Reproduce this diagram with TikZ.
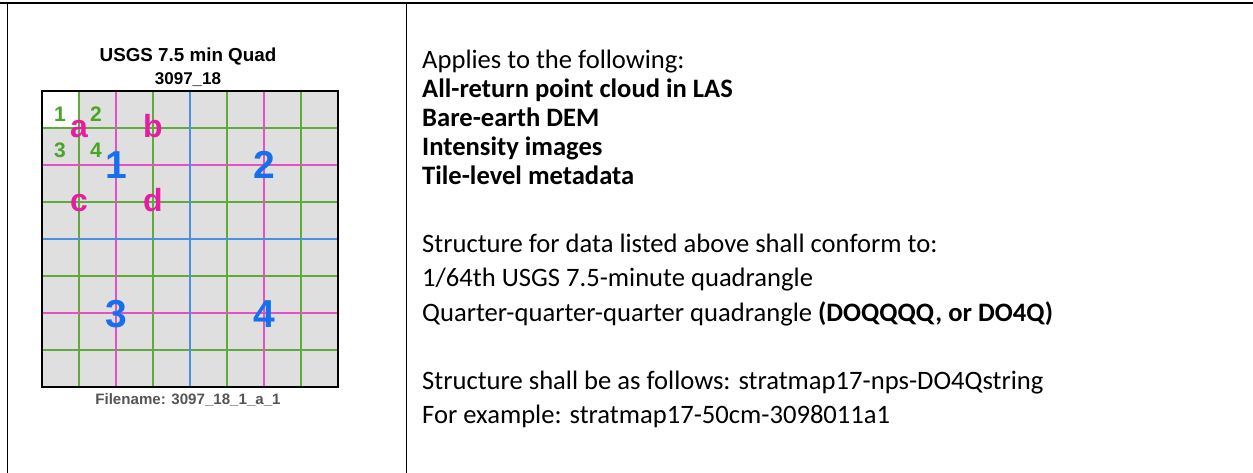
\documentclass[tikz,border=0pt]{standalone}
\usepackage{fontspec}
\setmainfont{Carlito}
\newfontfamily\arial{Liberation Sans}

\definecolor{gridfill}{RGB}{223,223,223}
\definecolor{glin}{RGB}{96,170,60}
\definecolor{mlin}{RGB}{226,82,196}
\definecolor{blin}{RGB}{74,144,226}
\definecolor{gtxt}{RGB}{72,165,38}
\definecolor{mtxt}{RGB}{232,28,164}
\definecolor{btxt}{RGB}{22,112,238}
\definecolor{captxt}{RGB}{85,85,85}

\begin{document}
\begin{tikzpicture}[x=1pt,y=-1pt,
  frame/.style={black,line width=1.4pt},
  body/.style={anchor=base west,inner sep=0pt,font=\fontsize{26.6}{32}\selectfont},
  bodybold/.style={body,font=\fontsize{26.6}{32}\selectfont\bfseries},
  maptitle/.style={anchor=base,inner sep=0pt,font=\arial\bfseries\fontsize{18.8}{20}\selectfont},
  mapsub/.style={anchor=base,inner sep=0pt,font=\arial\bfseries\fontsize{17}{18}\selectfont},
  mapcap/.style={anchor=base,inner sep=0pt,text=captxt,font=\arial\bfseries\fontsize{15.1}{16}\selectfont},
  qqq/.style={anchor=base,inner sep=0pt,text=gtxt,font=\arial\bfseries\fontsize{21}{21}\selectfont},
  qq/.style={anchor=base,inner sep=0pt,text=mtxt,font=\arial\bfseries\fontsize{32}{32}\selectfont},
  qd/.style={anchor=base,inner sep=0pt,text=btxt,font=\arial\bfseries\fontsize{39}{39}\selectfont},
  gline/.style={glin,line width=1.3pt},
  mline/.style={mlin,line width=1.3pt},
  bline/.style={blin,line width=1.3pt}]

\useasboundingbox (0,0) rectangle (1253,473);

% table rules
\draw[frame] (0,3) -- (1253,3);
\draw[frame] (7.3,3) -- (7.3,473);
\draw[frame] (406.7,3) -- (406.7,473);

% quad sheet: gray field, white first tile
\fill[gridfill] (42,91) rectangle (338,387);
\fill[white] (42,91) rectangle (79,128);
\foreach \i in {1,3,5,7} {
  \draw[gline] ({42+37*\i},91) -- ({42+37*\i},387);
  \draw[gline] (42,{91+37*\i}) -- (338,{91+37*\i});
}
\foreach \i in {2,6} {
  \draw[mline] ({42+37*\i},91) -- ({42+37*\i},387);
  \draw[mline] (42,{91+37*\i}) -- (338,{91+37*\i});
}
\draw[bline] (190,91) -- (190,387);
\draw[bline] (42,239) -- (338,239);
\draw[black,line width=1.5pt] (42,91) rectangle (338,387);

% headings and file name
\node[maptitle] (title) at (188,62) {USGS 7.5 min Quad};
\node[mapsub] (quadid) at (188,85) {3097\_18};
\node[mapcap] (fname) at (188,404) {Filename: 3097\_18\_1\_a\_1};

% tile numbers (1/64), quarter-quarter letters, quarter numbers
\node[qqq] (t1) at (60,122) {1};
\node[qqq] (t2) at (96,122) {2};
\node[qqq] (t3) at (60,158) {3};
\node[qqq] (t4) at (96,158) {4};
\node[qq] (qa) at (79,138) {a};
\node[qq] (qb) at (153,138) {b};
\node[qq] (qc) at (79,212) {c};
\node[qq] (qd) at (153,212) {d};
\node[qd] (q1) at (116,179) {1};
\node[qd] (q2) at (264,179) {2};
\node[qd] (q3) at (116,327) {3};
\node[qd] (q4) at (264,327) {4};

% specification text
\node[body] (l1) at (422,69) {Applies to the following:};
\node[bodybold] (l2) at (422,98) {All-return point cloud in LAS};
\node[bodybold] (l3) at (422,127) {Bare-earth DEM};
\node[bodybold] (l4) at (422,156) {Intensity images};
\node[bodybold] (l5) at (422,185) {Tile-level metadata};
\node[body] (l6) at (422,253) {Structure for data listed above shall conform to:};
\node[body] (l7) at (422,287) {1/64th USGS 7.5-minute quadrangle};
\node[body] (l8) at (422,321) {Quarter-quarter-quarter quadrangle \textbf{(DOQQQQ, or DO4Q)}};
\node[body] (l9) at (422,389) {Structure shall be as follows: stratmap17-nps-DO4Qstring};
\node[body] (l10) at (422,423) {For example: stratmap17-50cm-3098011a1};
\end{tikzpicture}
\end{document}
